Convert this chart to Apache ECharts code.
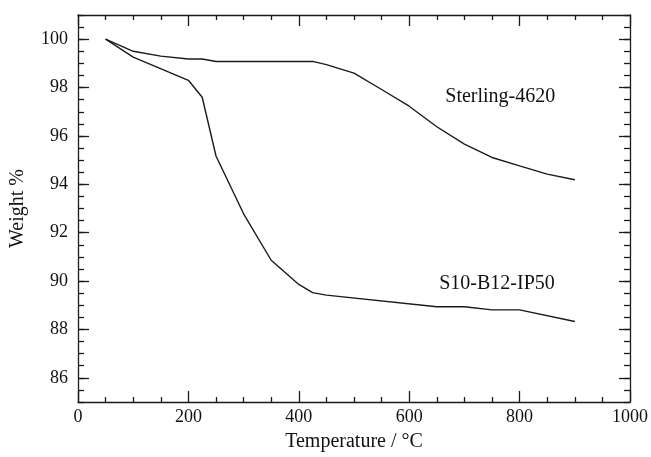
<!DOCTYPE html>
<html>
<head>
<meta charset="utf-8">
<script src="https://cdn.jsdelivr.net/npm/echarts@6/dist/echarts.min.js"></script>
<style>
  html, body { margin: 0; padding: 0; background: #fff; }
  #main { width: 651px; height: 457px; }
</style>
</head>
<body>
<div id="main"></div>
<script>
// Sterling-4620 (upper curve)
var sterlingT = [50, 100, 150, 200, 225, 250, 425, 450, 500, 550, 600, 650, 700, 750, 800, 850, 900];
var sterlingW = [100, 99.5, 99.3, 99.18, 99.18, 99.08, 99.08, 98.95, 98.6, 97.92, 97.23, 96.38, 95.66, 95.11, 94.76, 94.42, 94.19];

// S10-B12-IP50 (lower curve)
var blendT = [50, 100, 200, 225, 250, 300, 350, 400, 425, 450, 650, 700, 750, 800, 900];
var blendW = [100, 99.26, 98.3, 97.6, 95.17, 92.78, 90.86, 89.86, 89.52, 89.42, 88.94, 88.94, 88.81, 88.81, 88.33];

var yMajor = [86, 88, 90, 92, 94, 96, 98, 100];

var font = "Liberation Serif";
var ink = "#1a1a1a";

let pairs = (xs, ys) => xs.map((x, i) => [x, ys[i]]);

let initChart = () => {
  var lineAxis = { show: true, lineStyle: { color: ink, width: 1.3 } };

  let option = {
    backgroundColor: "#fff",
    animation: false,
    grid: { left: 78, right: 21, top: 15, bottom: 53 },
    xAxis: [
      {
        type: "value",
        position: "bottom",
        min: 0,
        max: 1000,
        interval: 200,
        name: "Temperature / °C",
        nameLocation: "middle",
        nameGap: 30,
        nameTextStyle: { fontFamily: font, fontSize: 20, color: "#111" },
        axisLine: lineAxis,
        axisTick: { inside: true, length: 11, lineStyle: { color: ink, width: 1.3 } },
        minorTick: { show: true, splitNumber: 4, length: 5, lineStyle: { color: ink, width: 1.3 } },
        axisLabel: { fontFamily: font, fontSize: 18, color: "#111", margin: 6, formatter: (v) => String(v) },
        splitLine: { show: false },
        minorSplitLine: { show: false },
      },
      {
        type: "value",
        position: "top",
        min: 0,
        max: 1000,
        interval: 200,
        axisLine: lineAxis,
        axisTick: { inside: true, length: 11, lineStyle: { color: ink, width: 1.3 } },
        minorTick: { show: true, splitNumber: 4, length: 5, lineStyle: { color: ink, width: 1.3 } },
        axisLabel: { show: false },
        splitLine: { show: false },
      },
    ],
    yAxis: [
      {
        // left, minor ticks every 0.5
        type: "value",
        position: "left",
        min: 85,
        max: 101,
        interval: 0.5,
        name: "Weight %",
        nameLocation: "middle",
        nameGap: 50,
        nameTextStyle: { fontFamily: font, fontSize: 20, color: "#111" },
        axisLine: lineAxis,
        axisTick: { inside: true, length: 6, lineStyle: { color: ink, width: 1.3 } },
        axisLabel: { show: false },
        splitLine: { show: false },
      },
      {
        // left, major ticks + labels
        type: "value",
        position: "left",
        min: 85,
        max: 101,
        axisLine: { show: false },
        axisTick: { inside: true, length: 11, customValues: yMajor, lineStyle: { color: ink, width: 1.3 } },
        axisLabel: { customValues: yMajor, fontFamily: font, fontSize: 18, color: "#111", margin: 10 },
        splitLine: { show: false },
      },
      {
        type: "value",
        position: "right",
        min: 85,
        max: 101,
        interval: 0.5,
        axisLine: lineAxis,
        axisTick: { inside: true, length: 6, lineStyle: { color: ink, width: 1.3 } },
        axisLabel: { show: false },
        splitLine: { show: false },
      },
      {
        type: "value",
        position: "right",
        min: 85,
        max: 101,
        axisLine: { show: false },
        axisTick: { inside: true, length: 11, customValues: yMajor, lineStyle: { color: ink, width: 1.3 } },
        axisLabel: { show: false },
        splitLine: { show: false },
      },
    ],
    series: [
      {
        name: "Sterling-4620",
        type: "line",
        xAxisIndex: 0,
        yAxisIndex: 0,
        showSymbol: false,
        lineStyle: { color: ink, width: 1.4 },
        data: pairs(sterlingT, sterlingW),
        markPoint: {
          symbolSize: 0,
          label: { show: true, position: "inside", formatter: "{b}", fontFamily: font, fontSize: 20, color: "#111" },
          data: [{ name: "Sterling-4620", coord: [765, 97.6] }],
        },
      },
      {
        name: "S10-B12-IP50",
        type: "line",
        xAxisIndex: 0,
        yAxisIndex: 0,
        showSymbol: false,
        lineStyle: { color: ink, width: 1.4 },
        data: pairs(blendT, blendW),
        markPoint: {
          symbolSize: 0,
          label: { show: true, position: "inside", formatter: "{b}", fontFamily: font, fontSize: 20, color: "#111" },
          data: [{ name: "S10-B12-IP50", coord: [759, 89.9] }],
        },
      },
    ],
  };

  var myChart = echarts.init(document.getElementById("main"));
  myChart.setOption(option);
};

initChart();
</script>
</body>
</html>
